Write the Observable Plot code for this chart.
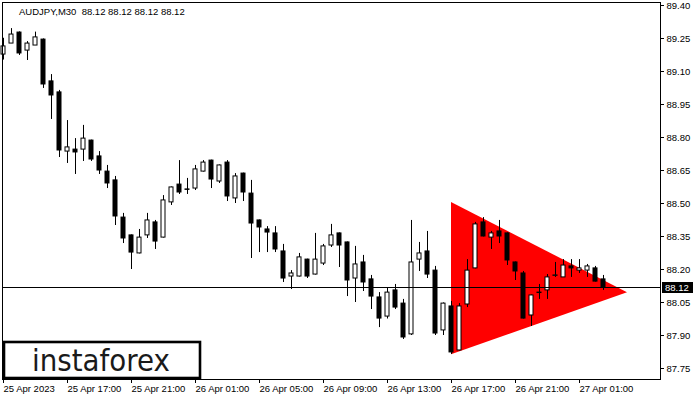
<!DOCTYPE html>
<html><head><meta charset="utf-8">
<script src="https://cdn.jsdelivr.net/npm/d3@7"></script>
<script src="https://cdn.jsdelivr.net/npm/@observablehq/plot@0.6"></script>
<style>body{margin:0;background:#fff}</style>
</head><body><div id="chart"></div>
<script>
const symbolTitle = "AUDJPY,M30  88.12 88.12 88.12 88.12";
const lastPrice = 88.12;
const logoText = "instaforex";

const open = [89.177,89.227,89.277,89.195,89.218,89.245,89.055,89.005,88.736,88.745,88.745,88.786,88.714,88.645,88.605,88.436,88.355,88.273,88.355,88.414,88.345,88.505,88.586,88.564,88.568,88.645,88.695,88.600,88.686,88.523,88.636,88.545,88.423,88.382,88.364,88.282,88.168,88.168,88.245,88.177,88.227,88.309,88.364,88.323,88.159,88.232,88.155,88.073,87.986,88.105,88.045,87.905,88.245,88.282,88.195,87.923,88.032,87.832,88.041,88.205,88.414,88.345,88.373,88.364,88.232,88.182,87.991,88.093,88.105,88.171,88.164,88.214,88.195,88.195,88.205,88.155];
const high = [89.251,89.295,89.280,89.236,89.279,89.248,89.086,89.014,88.877,88.795,88.855,88.788,88.736,88.673,88.623,88.455,88.357,88.382,88.455,88.423,88.536,88.575,88.695,88.614,88.673,88.695,88.697,88.675,88.695,88.636,88.638,88.605,88.425,88.395,88.395,88.314,88.195,88.273,88.247,88.364,88.314,88.405,88.366,88.325,88.305,88.264,88.173,88.095,88.114,88.132,88.064,88.423,88.323,88.373,88.214,88.048,88.055,88.045,88.245,88.414,88.436,88.373,88.423,88.366,88.234,88.191,88.084,88.132,88.177,88.232,88.245,88.245,88.245,88.223,88.214,88.173];
const low = [89.152,89.227,89.173,89.150,89.218,89.023,88.882,88.709,88.682,88.632,88.691,88.691,88.632,88.568,88.400,88.318,88.200,88.271,88.341,88.291,88.343,88.491,88.541,88.541,88.559,88.643,88.568,88.591,88.509,88.500,88.509,88.250,88.277,88.277,88.277,88.141,88.109,88.166,88.159,88.175,88.218,88.300,88.209,88.077,88.050,88.100,88.018,87.936,87.975,88.018,87.882,87.900,88.191,88.159,87.900,87.900,87.814,87.830,88.027,88.203,88.348,88.291,88.318,88.218,88.150,87.975,87.941,88.064,88.064,88.164,88.164,88.164,88.182,88.164,88.143,88.105];
const close = [89.214,89.268,89.182,89.227,89.255,89.041,88.991,88.741,88.755,88.732,88.795,88.700,88.650,88.591,88.441,88.341,88.277,88.345,88.423,88.327,88.514,88.573,88.550,88.562,88.655,88.686,88.609,88.673,88.532,88.623,88.550,88.409,88.391,88.368,88.291,88.159,88.182,88.255,88.168,88.245,88.305,88.355,88.309,88.150,88.223,88.141,88.077,87.977,88.095,88.027,87.891,88.232,88.273,88.177,87.909,88.045,87.823,88.032,88.195,88.405,88.350,88.364,88.350,88.241,88.191,87.977,88.082,88.095,88.164,88.173,88.218,88.205,88.205,88.214,88.145,88.120];

const xTickIndex = [0, 8, 16, 24, 32, 40, 48, 56, 64, 72];
const xTickLabels = ["25 Apr 2023","25 Apr 17:00","25 Apr 21:00","26 Apr 01:00","26 Apr 05:00","26 Apr 09:00","26 Apr 13:00","26 Apr 17:00","26 Apr 21:00","27 Apr 01:00"];
const yTicks = [89.40, 89.25, 89.10, 88.95, 88.80, 88.65, 88.50, 88.35, 88.20, 88.05, 87.90, 87.75];

const triangleX = [56, 78];
const triangleTop = [88.505, 88.094];
const triangleBottom = [87.812, 88.094];

const candles = open.map((o, i) => ({i, o, h: high[i], l: low[i], c: close[i]}));
const tri = triangleX.map((x, j) => ({x, y1: triangleBottom[j], y2: triangleTop[j]}));
const FONT = "'Liberation Sans', Arial, sans-serif";

const chart = Plot.plot({
  width: 700, height: 400,
  marginLeft: 2, marginRight: 40, marginTop: 2, marginBottom: 21,
  style: {fontFamily: FONT, fontSize: "9.5px", background: "white", color: "black", overflow: "visible"},
  x: {type: "linear", domain: [-0.125, 82.125], axis: null},
  y: {domain: [87.7, 89.41364], axis: null},
  marks: [
    Plot.areaY(tri, {x: "x", y1: "y1", y2: "y2", fill: "#ff0000", curve: "linear"}),
    Plot.ruleX(candles, {x: "i", y1: "l", y2: "h", stroke: "black", strokeWidth: 1}),
    Plot.rect(candles, {x1: d => d.i - 0.25, x2: d => d.i + 0.25, y1: "o", y2: "c",
      fill: d => d.c >= d.o ? "white" : "black", stroke: "black", strokeWidth: 1}),
    Plot.ruleY([lastPrice], {stroke: "black", strokeWidth: 1, shapeRendering: "crispEdges"}),
    Plot.frame({stroke: "black"}),
    Plot.axisY(yTicks, {anchor: "right", tickSize: 3, tickPadding: 3, tickFormat: d => d.toFixed(2), fill: "black"}),
    Plot.axisX(xTickIndex, {anchor: "bottom", tickSize: 4, tickPadding: 2, textAnchor: "start",
      tickFormat: (d) => xTickLabels[xTickIndex.indexOf(d)], fill: "black"}),
    (index, scales, values, dimensions) => {
      const g = d3.create("svg:g").attr("text-anchor", "start");
      // title
      g.append("text").attr("x", 19).attr("y", 15).attr("text-anchor", "start").attr("font-family", FONT).attr("font-size", "9.5px")
        .attr("fill", "black").style("white-space", "pre").text(symbolTitle);
      // last price label
      const yy = scales && scales.y ? scales.y(lastPrice) : 5 + (89.40 - lastPrice) * 220;
      const ly = Math.round(yy);
      g.append("rect").attr("x", 662).attr("y", ly - 5).attr("width", 31).attr("height", 11).attr("fill", "black");
      g.append("text").attr("x", 665).attr("y", ly + 4).attr("text-anchor", "start").attr("font-family", FONT).attr("font-size", "9.5px")
        .attr("fill", "white").text(lastPrice.toFixed(2));
      // logo
      g.append("rect").attr("x", 4).attr("y", 342).attr("width", 196).attr("height", 36)
        .attr("fill", "white").attr("stroke", "black").attr("stroke-width", 2.6);
      g.append("text").attr("x", 32).attr("y", 371).attr("text-anchor", "start").attr("font-family", "'DejaVu Sans', sans-serif")
        .attr("font-size", "31px").attr("fill", "#1a1a1a")
        .attr("textLength", 138).attr("lengthAdjust", "spacingAndGlyphs").text(logoText);
      return g.node();
    }
  ]
});
document.getElementById("chart").appendChild(chart);
</script>
</body></html>
